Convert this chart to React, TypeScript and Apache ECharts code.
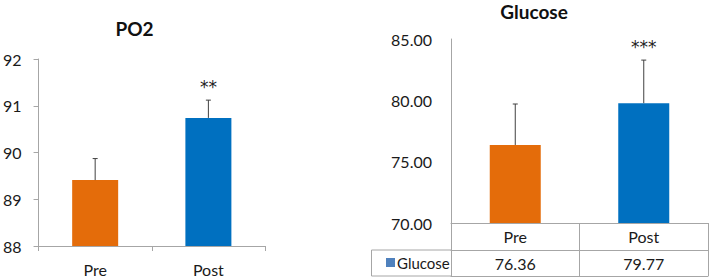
import React, { useEffect, useRef } from "react";
import * as echarts from "echarts";

const categories = ["Pre", "Post"];
const po2Mean = [89.41, 90.74];
const po2Sd = [0.46, 0.38];
const po2Stars = ["", "**"];
const po2Ticks = { min: 88, max: 92, interval: 1 };

const glucoseMean = [76.36, 79.77];
const glucoseSd = [3.34, 3.51];
const glucoseStars = ["", "***"];
const glucoseTicks = { min: 70, max: 85, interval: 5 };

const barColors = ["#E46C0A", "#0070C0"];
const legendColor = "#4F81BD";
const axisColor = "#A6A6A6";
const textColor = "#1a1a1a";
const font = "Lato";

function errorSeries(name: string, idx: number, means: number[], sds: number[], stars: string[]) {
  return {
    type: "custom",
    name,
    xAxisIndex: idx === 0 ? 0 : 1,
    yAxisIndex: idx,
    silent: true,
    z: 5,
    encode: { x: 0, y: 1 },
    data: means.map((m, i) => [i, m, sds[i]]),
    renderItem: (params: any, api: any) => {
      const i = api.value(0);
      const m = api.value(1);
      const s = api.value(2);
      const base = api.coord([i, m]);
      const top = api.coord([i, m + s]);
      const st = stars[params.dataIndex];
      const children: any[] = [
        { type: "line", shape: { x1: base[0], y1: base[1], x2: top[0], y2: top[1] }, style: { stroke: "#404040", lineWidth: 1 } },
        { type: "line", shape: { x1: top[0] - 2.5, y1: top[1], x2: top[0] + 2.5, y2: top[1] }, style: { stroke: "#404040", lineWidth: 1 } },
      ];
      if (st) {
        children.push({
          type: "text",
          x: top[0],
          y: top[1] - 13,
          style: { text: st, fill: "#222", font: `17px "DejaVu Sans"`, textAlign: "center", textVerticalAlign: "middle" },
        });
      }
      return { type: "group", children };
    },
  };
}

export default function App() {
  const ref = useRef<HTMLDivElement>(null);
  useEffect(() => {
    const chart = echarts.init(ref.current!, null, { renderer: "svg" });
    const option: any = {
      animation: false,
      textStyle: { fontFamily: font },
      legend: {
        data: ["Glucose"],
        left: 386,
        top: 255,
        padding: 0,
        itemWidth: 9,
        itemHeight: 9,
        itemGap: 4,
        icon: "rect",
        textStyle: { fontSize: 15, color: textColor, fontFamily: font, padding: [0, 0, 0, -3] },
        selectedMode: false,
      },
      grid: [
        { left: 35, top: 59, width: 230, height: 189 },
        { left: 451, top: 39, width: 257, height: 184 },
      ],
      xAxis: [
        {
          type: "category",
          gridIndex: 0,
          data: categories,
          axisLine: { lineStyle: { color: axisColor } },
          axisTick: { show: true, length: 5, interval: 0, lineStyle: { color: axisColor } },
          axisLabel: { fontSize: 16, color: textColor, margin: 15, fontFamily: font },
        },
        {
          type: "category",
          gridIndex: 1,
          data: categories,
          axisLine: { lineStyle: { color: axisColor } },
          axisTick: { show: true, length: 53, interval: 0, lineStyle: { color: axisColor } },
          axisLabel: { fontSize: 16, color: textColor, margin: 5, fontFamily: font },
        },
        {
          type: "category",
          gridIndex: 1,
          position: "bottom",
          offset: 27,
          data: glucoseMean.map((v) => v.toFixed(2)),
          axisLine: { lineStyle: { color: axisColor } },
          axisTick: { show: false },
          axisLabel: { fontSize: 16, color: textColor, margin: 5, fontFamily: font },
        },
        {
          type: "category",
          gridIndex: 1,
          position: "bottom",
          offset: 53,
          data: categories,
          axisLine: { lineStyle: { color: axisColor } },
          axisTick: { show: false },
          axisLabel: { show: false },
        },
      ],
      yAxis: [
        {
          type: "value",
          gridIndex: 0,
          min: po2Ticks.min,
          max: po2Ticks.max,
          interval: po2Ticks.interval,
          axisLine: { show: true, lineStyle: { color: axisColor } },
          axisTick: { show: true, length: 5, lineStyle: { color: axisColor } },
          splitLine: { show: false },
          axisLabel: { fontSize: 16, color: textColor, margin: 17, fontFamily: font },
        },
        {
          type: "value",
          gridIndex: 1,
          min: glucoseTicks.min,
          max: glucoseTicks.max,
          interval: glucoseTicks.interval,
          axisLine: { show: true, lineStyle: { color: axisColor } },
          axisTick: { show: false },
          splitLine: { show: false },
          axisLabel: { fontSize: 16, color: textColor, margin: 19, fontFamily: font, formatter: (v: number) => v.toFixed(2) },
        },
      ],
      series: [
        {
          type: "bar",
          name: "PO2",
          xAxisIndex: 0,
          yAxisIndex: 0,
          barWidth: 46,
          data: po2Mean.map((v, i) => ({ value: v, itemStyle: { color: barColors[i] } })),
        },
        errorSeries("PO2 err", 0, po2Mean, po2Sd, po2Stars),
        {
          type: "bar",
          name: "Glucose",
          xAxisIndex: 1,
          yAxisIndex: 1,
          barWidth: 51,
          itemStyle: { color: legendColor },
          data: glucoseMean.map((v, i) => ({ value: v, itemStyle: { color: barColors[i] } })),
        },
        errorSeries("Glucose err", 1, glucoseMean, glucoseSd, glucoseStars),
      ],
      graphic: [
        { type: "text", x: 134.5, y: 28.5, style: { text: "PO2", font: `bold 19px ${font}`, fill: "#111", textAlign: "center", textVerticalAlign: "middle" } },
        { type: "text", x: 534, y: 11, style: { text: "Glucose", font: `bold 19px ${font}`, fill: "#111", textAlign: "center", textVerticalAlign: "middle" } },
        { type: "rect", shape: { x: 371.5, y: 250, width: 80, height: 26 }, style: { fill: "none", stroke: axisColor, lineWidth: 1 } },
      ],
    };
    chart.setOption(option);
    return () => chart.dispose();
  }, []);
  return <div ref={ref} style={{ position: "fixed", left: 0, top: 0, width: 709, height: 277, background: "#fff" }} />;
}
